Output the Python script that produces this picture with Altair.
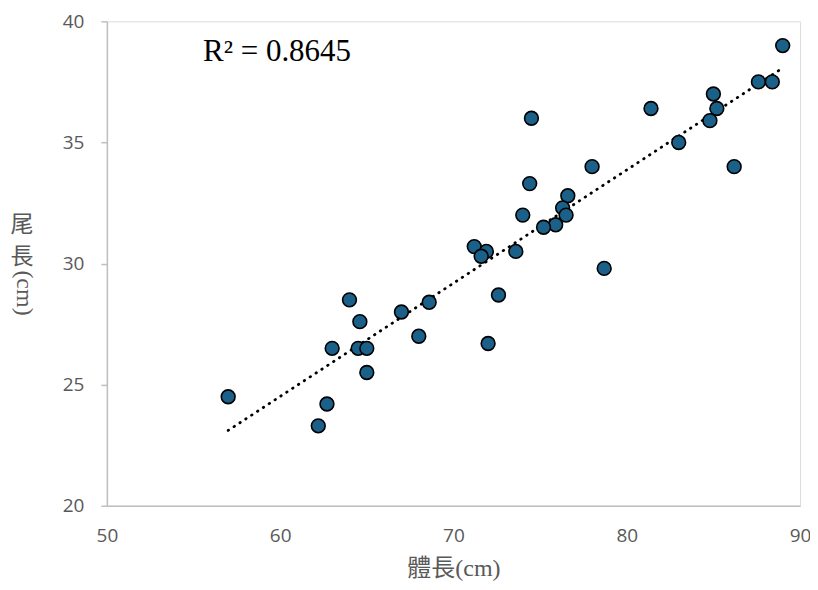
import altair as alt
import pandas as pd

# body length (cm) and tail length (cm)
body_len = [57.0, 64.0, 64.6, 63.0, 64.5, 65.0, 65.0, 62.7, 62.2, 67.0, 68.6, 68.0,
            85.0, 81.4, 74.5, 85.2, 84.8, 83.0, 86.2, 78.0, 74.4, 76.6, 76.3, 76.5,
            74.0, 75.9, 75.2, 71.2, 71.9, 71.6, 73.6, 78.7, 72.6, 72.0,
            87.6, 88.4, 89.0]
tail_len = [24.5, 28.5, 27.6, 26.5, 26.5, 26.5, 25.5, 24.2, 23.3, 28.0, 28.4, 27.0,
            37.0, 36.4, 36.0, 36.4, 35.9, 35.0, 34.0, 34.0, 33.3, 32.8, 32.3, 32.0,
            32.0, 31.6, 31.5, 30.7, 30.5, 30.3, 30.5, 29.8, 28.7, 26.7,
            37.5, 37.5, 39.0]

x_ticks = [50, 60, 70, 80, 90]
y_ticks = [20, 25, 30, 35, 40]
r2_text = "R² = 0.8645"
r2_pos = (55.55, 38.38)
x_title = "體長(cm)"
y_title_parts = ["尾", "長", "(cm)"]

df = pd.DataFrame({"x": body_len, "y": tail_len})

GRAY = "#595959"
AXIS_LINE = "#bfbfbf"

xs = alt.Scale(domain=[50, 90], nice=False, zero=False)
ys = alt.Scale(domain=[20, 40], nice=False, zero=False)

base = alt.Chart(df)

points = base.mark_point(
    shape="circle", filled=True, size=190, fill="#1b6088",
    stroke="#000000", strokeWidth=1.6, opacity=1
).encode(
    x=alt.X("x:Q", scale=xs, axis=alt.Axis(
        values=x_ticks, title=x_title, grid=False, ticks=False,
        domainColor=AXIS_LINE, domainWidth=1.5, labelFlush=False,
        labelFont="Open Sans", labelFontSize=19, labelColor=GRAY, labelPadding=21,
        titleFont="Liberation Serif, Noto Sans CJK TC", titleFontSize=24,
        titleFontWeight="normal", titleColor=GRAY, titlePadding=11)),
    y=alt.Y("y:Q", scale=ys, axis=alt.Axis(
        values=y_ticks, title=None, grid=False, ticks=True, tickSize=6,
        tickColor=AXIS_LINE, tickWidth=1.5, labelFlush=False,
        domainColor=AXIS_LINE, domainWidth=1.5,
        labelFont="Open Sans", labelFontSize=19, labelColor=GRAY, labelPadding=17)),
)

trend = base.transform_regression("x", "y").mark_line(
    color="#000000", strokeWidth=2.8, strokeDash=[0.5, 6.5], strokeCap="round"
).encode(x=alt.X("x:Q", scale=xs), y=alt.Y("y:Q", scale=ys))

r2 = alt.Chart(pd.DataFrame({"x": [r2_pos[0]], "y": [r2_pos[1]], "t": [r2_text]})).mark_text(
    font="Liberation Serif", fontSize=31, color="#000000", align="left", baseline="alphabetic"
).encode(x=alt.X("x:Q", scale=xs), y=alt.Y("y:Q", scale=ys), text="t:N")

ytitle_font = "Liberation Serif, Noto Sans CJK TC"
yt1 = alt.Chart(pd.DataFrame({"t": [y_title_parts[0]]})).mark_text(
    font=ytitle_font, fontSize=23, color=GRAY, align="center", baseline="middle"
).encode(x=alt.value(-85), y=alt.value(204), text="t:N")
yt2 = alt.Chart(pd.DataFrame({"t": [y_title_parts[1]]})).mark_text(
    font=ytitle_font, fontSize=23, color=GRAY, align="center", baseline="middle"
).encode(x=alt.value(-85), y=alt.value(236), text="t:N")
yt3 = alt.Chart(pd.DataFrame({"t": [y_title_parts[2]]})).mark_text(
    font=ytitle_font, fontSize=24, color=GRAY, align="center", baseline="middle", angle=90
).encode(x=alt.value(-83), y=alt.value(272), text="t:N")

chart = alt.layer(trend, points, r2, yt1, yt2, yt3).properties(
    width=694, height=485,
    autosize=alt.AutoSizeParams(type="none"),
    padding={"left": 99, "top": 13, "right": 10, "bottom": 82},
).configure_view(stroke=None).configure(background="#ffffff")

chart.save("out.html", embed_options={"renderer": "svg", "actions": False})
